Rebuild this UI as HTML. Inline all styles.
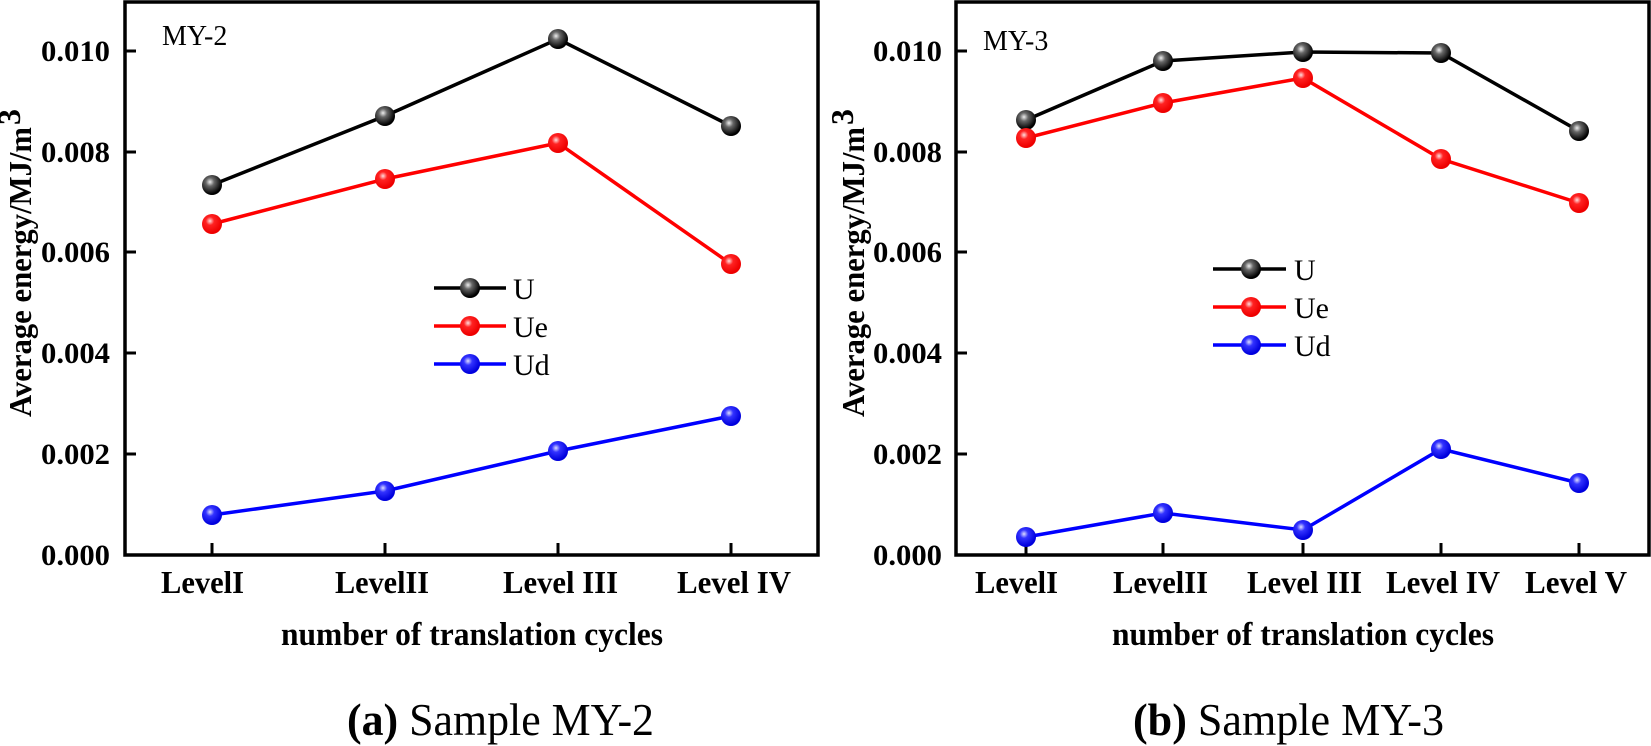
<!DOCTYPE html>
<html><head><meta charset="utf-8"><style>
html,body{margin:0;padding:0;background:#fff;}
svg{display:block;}
text{font-family:"Liberation Serif",serif;}
.tk{font-weight:bold;font-size:30px;}
.xl{font-weight:bold;font-size:32px;}
.ax{font-weight:bold;font-size:33px;}
.yl{font-weight:bold;font-size:32px;}
</style></head><body>
<svg width="1651" height="746" viewBox="0 0 1651 746" xmlns="http://www.w3.org/2000/svg">
<defs>
<radialGradient id="gk" cx="0.4" cy="0.35" r="0.6"><stop offset="0" stop-color="#eee"/><stop offset="0.35" stop-color="#666"/><stop offset="1" stop-color="#000"/></radialGradient>
<radialGradient id="gr" cx="0.4" cy="0.35" r="0.6"><stop offset="0" stop-color="#fdd"/><stop offset="0.35" stop-color="#f22"/><stop offset="1" stop-color="#e00"/></radialGradient>
<radialGradient id="gb" cx="0.4" cy="0.35" r="0.6"><stop offset="0" stop-color="#ddf"/><stop offset="0.35" stop-color="#33f"/><stop offset="1" stop-color="#00d"/></radialGradient>
</defs>
<g fill="none" stroke="#000" stroke-width="3.5">
<rect x="125" y="2" width="693" height="553"/>
<rect x="956" y="2" width="693" height="553"/>
</g>
<g stroke="#000" stroke-width="3">
<path d="M125 51h11M125 152h11M125 252h11M125 353h11M125 454h11"/>
<path d="M212 555v-12M385 555v-12M558 555v-12M731 555v-12"/>
<path d="M956 51h11M956 152h11M956 252h11M956 353h11M956 454h11"/>
<path d="M1026 555v-12M1163 555v-12M1303 555v-12M1441 555v-12M1579 555v-12"/>
</g>
<g class="tk">
<text x="41" y="61" textLength="69" lengthAdjust="spacingAndGlyphs">0.010</text>
<text x="41" y="162" textLength="69" lengthAdjust="spacingAndGlyphs">0.008</text>
<text x="41" y="262" textLength="69" lengthAdjust="spacingAndGlyphs">0.006</text>
<text x="41" y="363" textLength="69" lengthAdjust="spacingAndGlyphs">0.004</text>
<text x="41" y="464" textLength="69" lengthAdjust="spacingAndGlyphs">0.002</text>
<text x="41" y="565" textLength="69" lengthAdjust="spacingAndGlyphs">0.000</text>
<text x="873" y="61" textLength="69" lengthAdjust="spacingAndGlyphs">0.010</text>
<text x="873" y="162" textLength="69" lengthAdjust="spacingAndGlyphs">0.008</text>
<text x="873" y="262" textLength="69" lengthAdjust="spacingAndGlyphs">0.006</text>
<text x="873" y="363" textLength="69" lengthAdjust="spacingAndGlyphs">0.004</text>
<text x="873" y="464" textLength="69" lengthAdjust="spacingAndGlyphs">0.002</text>
<text x="873" y="565" textLength="69" lengthAdjust="spacingAndGlyphs">0.000</text>
</g>
<g class="xl">
<text x="161" y="593" textLength="83" lengthAdjust="spacingAndGlyphs">LevelI</text>
<text x="335" y="593" textLength="94" lengthAdjust="spacingAndGlyphs">LevelII</text>
<text x="503" y="593" textLength="115" lengthAdjust="spacingAndGlyphs">Level III</text>
<text x="677" y="593" textLength="114" lengthAdjust="spacingAndGlyphs">Level IV</text>
<text x="975" y="593" textLength="83" lengthAdjust="spacingAndGlyphs">LevelI</text>
<text x="1113" y="593" textLength="95" lengthAdjust="spacingAndGlyphs">LevelII</text>
<text x="1247" y="593" textLength="115" lengthAdjust="spacingAndGlyphs">Level III</text>
<text x="1386" y="593" textLength="114" lengthAdjust="spacingAndGlyphs">Level IV</text>
<text x="1525" y="593" textLength="102" lengthAdjust="spacingAndGlyphs">Level V</text>
</g>
<text class="ax" x="281" y="645" textLength="382" lengthAdjust="spacingAndGlyphs">number of translation cycles</text>
<text class="ax" x="1112" y="645" textLength="382" lengthAdjust="spacingAndGlyphs">number of translation cycles</text>
<text class="yl" transform="translate(31 417) rotate(-90)" textLength="290" lengthAdjust="spacingAndGlyphs">Average energy/MJ/m</text>
<text class="yl" transform="translate(31 417) rotate(-90)" x="292" y="-11" font-size="20">3</text>
<text class="yl" transform="translate(864 417) rotate(-90)" textLength="290" lengthAdjust="spacingAndGlyphs">Average energy/MJ/m</text>
<text class="yl" transform="translate(864 417) rotate(-90)" x="292" y="-11" font-size="20">3</text>
<text x="162" y="45" font-size="28">MY-2</text>
<text x="983" y="50" font-size="28">MY-3</text>
<text x="347" y="735" font-size="46" textLength="307" lengthAdjust="spacingAndGlyphs"><tspan font-weight="bold">(a)</tspan> Sample MY-2</text>
<text x="1133" y="735" font-size="46" textLength="311" lengthAdjust="spacingAndGlyphs"><tspan font-weight="bold">(b)</tspan> Sample MY-3</text>
<g fill="none" stroke-width="3.5">
<polyline stroke="#000" points="212,185 385,116 558,39 731,126"/>
<polyline stroke="#f00" points="212,224 385,179 558,143 731,264"/>
<polyline stroke="#00f" points="212,515 385,491 558,451 731,416"/>
<polyline stroke="#000" points="1026,120 1163,61 1303,52 1441,53 1579,131"/>
<polyline stroke="#f00" points="1026,138 1163,103 1303,78 1441,159 1579,203"/>
<polyline stroke="#00f" points="1026,537 1163,513 1303,530 1441,449 1579,483"/>
<path stroke="#000" d="M434 288h72M1213 269h73"/>
<path stroke="#f00" d="M434 326h72M1213 307h73"/>
<path stroke="#00f" d="M434 364h72M1213 345h73"/>
</g>
<g fill="url(#gk)">
<circle cx="212" cy="185" r="10"/><circle cx="385" cy="116" r="10"/><circle cx="558" cy="39" r="10"/><circle cx="731" cy="126" r="10"/>
<circle cx="1026" cy="120" r="10"/><circle cx="1163" cy="61" r="10"/><circle cx="1303" cy="52" r="10"/><circle cx="1441" cy="53" r="10"/><circle cx="1579" cy="131" r="10"/>
<circle cx="470" cy="288" r="10"/><circle cx="1251" cy="269" r="10"/>
</g>
<g fill="url(#gr)">
<circle cx="212" cy="224" r="10"/><circle cx="385" cy="179" r="10"/><circle cx="558" cy="143" r="10"/><circle cx="731" cy="264" r="10"/>
<circle cx="1026" cy="138" r="10"/><circle cx="1163" cy="103" r="10"/><circle cx="1303" cy="78" r="10"/><circle cx="1441" cy="159" r="10"/><circle cx="1579" cy="203" r="10"/>
<circle cx="470" cy="326" r="10"/><circle cx="1251" cy="307" r="10"/>
</g>
<g fill="url(#gb)">
<circle cx="212" cy="515" r="10"/><circle cx="385" cy="491" r="10"/><circle cx="558" cy="451" r="10"/><circle cx="731" cy="416" r="10"/>
<circle cx="1026" cy="537" r="10"/><circle cx="1163" cy="513" r="10"/><circle cx="1303" cy="530" r="10"/><circle cx="1441" cy="449" r="10"/><circle cx="1579" cy="483" r="10"/>
<circle cx="470" cy="364" r="10"/><circle cx="1251" cy="345" r="10"/>
</g>
<g font-size="30">
<text x="513" y="299">U</text><text x="513" y="337">Ue</text><text x="513" y="375">Ud</text>
<text x="1294" y="280">U</text><text x="1294" y="318">Ue</text><text x="1294" y="356">Ud</text>
</g>
</svg>
</body></html>
